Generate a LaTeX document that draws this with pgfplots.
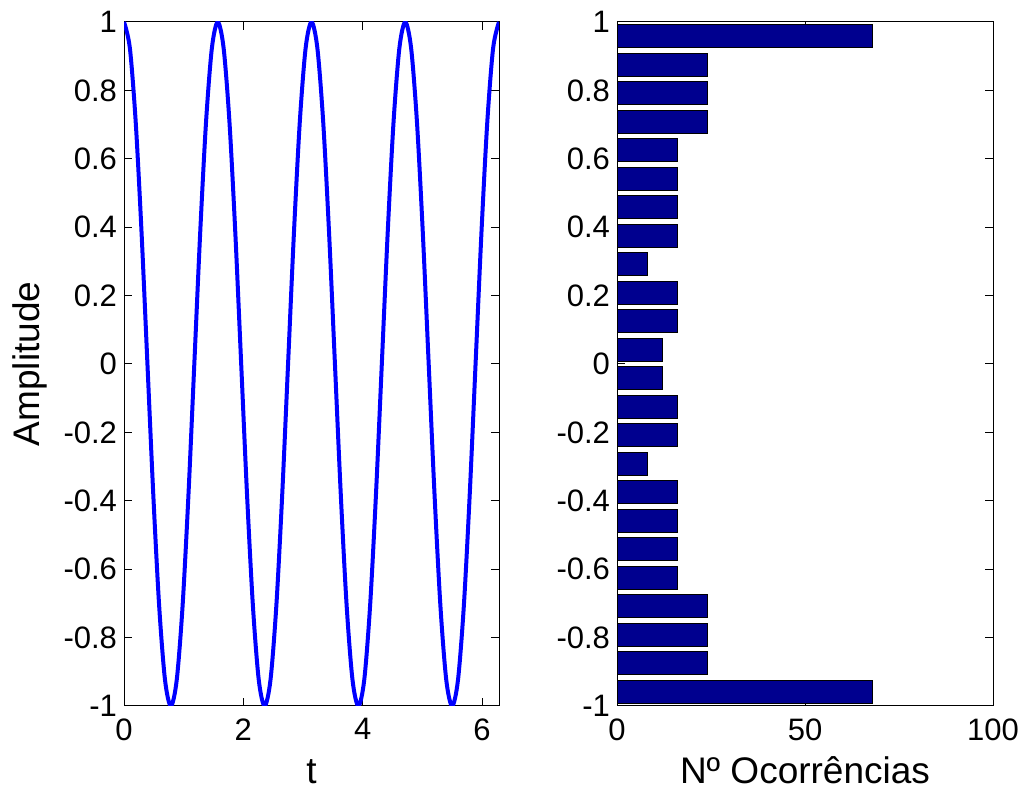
\documentclass[border=0pt]{standalone}
\usepackage{fontspec}
\setmainfont{Liberation Sans}
\usepackage{pgfplots}
\pgfplotsset{compat=1.18}
\definecolor{histblue}{RGB}{0,0,143}
\begin{document}
\begin{tikzpicture}
\path[use as bounding box] (0,0) rectangle (511.5pt,395pt);
\pgfplotsset{
  every axis/.append style={
    scale only axis,
    height=342pt,
    anchor=south west,
    tick align=inside,
    major tick length=4pt,
    axis line style={line width=0.5pt},
    every tick/.style={black,line width=0.5pt},
    /pgf/number format/assume math mode=true,
    tick label style={font=\fontsize{15.5}{18}\selectfont},
    label style={font=\fontsize{18.5}{22}\selectfont},
    xticklabel style={yshift=-2.8pt},
    ymin=-1, ymax=1,
    ytick={-1,-0.8,-0.6,-0.4,-0.2,0,0.2,0.4,0.6,0.8,1},
    yticklabels={-1,-0.8,-0.6,-0.4,-0.2,0,0.2,0.4,0.6,0.8,1},
  }
}
\begin{axis}[
  at={(62pt,42pt)},
  width=187.5pt,
  xmin=0, xmax=6.2832,
  xtick={0,2,4,6},
  xlabel={t},
  ylabel={Amplitude},
  xlabel style={at={(axis description cs:0.5,-0.1126)},anchor=base},
  ylabel style={at={(axis description cs:-0.224,0.5)},anchor=base},
]
\addplot[blue, line width=2pt, smooth] coordinates {
(0.0000,1) (0.0982,0.9239) (0.1963,0.7071) (0.2945,0.3827) (0.3927,0) (0.4909,-0.3827) (0.5890,-0.7071) (0.6872,-0.9239)
(0.7854,-1) (0.8836,-0.9239) (0.9817,-0.7071) (1.0799,-0.3827) (1.1781,0) (1.2763,0.3827) (1.3744,0.7071) (1.4726,0.9239)
(1.5708,1) (1.6690,0.9239) (1.7671,0.7071) (1.8653,0.3827) (1.9635,0) (2.0617,-0.3827) (2.1598,-0.7071) (2.2580,-0.9239)
(2.3562,-1) (2.4544,-0.9239) (2.5525,-0.7071) (2.6507,-0.3827) (2.7489,0) (2.8471,0.3827) (2.9452,0.7071) (3.0434,0.9239)
(3.1416,1) (3.2398,0.9239) (3.3379,0.7071) (3.4361,0.3827) (3.5343,0) (3.6325,-0.3827) (3.7306,-0.7071) (3.8288,-0.9239)
(3.9270,-1) (4.0252,-0.9239) (4.1233,-0.7071) (4.2215,-0.3827) (4.3197,0) (4.4179,0.3827) (4.5160,0.7071) (4.6142,0.9239)
(4.7124,1) (4.8106,0.9239) (4.9087,0.7071) (5.0069,0.3827) (5.1051,0) (5.2033,-0.3827) (5.3014,-0.7071) (5.3996,-0.9239)
(5.4978,-1) (5.5960,-0.9239) (5.6941,-0.7071) (5.7923,-0.3827) (5.8905,0) (5.9887,0.3827) (6.0868,0.7071) (6.1850,0.9239)
(6.2832,1)
};
\end{axis}
\begin{axis}[
  at={(308.5pt,42pt)},
  width=188pt,
  xmin=0, xmax=100,
  xtick={0,50,100},
  xlabel={Nº Ocorrências},
  xlabel style={at={(axis description cs:0.5,-0.1126)},anchor=base},
]
\addplot[xbar, bar width=0.0667, fill=histblue, draw=black, line width=0.5pt] coordinates {
(68,-0.9583) (24,-0.8750) (24,-0.7917) (24,-0.7083) (16,-0.6250) (16,-0.5417)
(16,-0.4583) (16,-0.3750) (8,-0.2917) (16,-0.2083) (16,-0.1250) (12,-0.0417)
(12,0.0417) (16,0.1250) (16,0.2083) (8,0.2917) (16,0.3750) (16,0.4583)
(16,0.5417) (16,0.6250) (24,0.7083) (24,0.7917) (24,0.8750) (68,0.9583)
};
\end{axis}
\end{tikzpicture}
\end{document}
